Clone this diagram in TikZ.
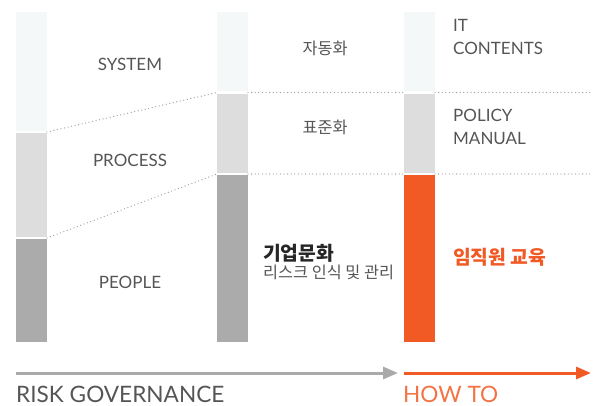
\documentclass[tikz,border=0pt]{standalone}
\usepackage{fontspec}
\setmainfont{Lato}
\newfontfamily\kr{Noto Sans CJK KR}
\usetikzlibrary{calc,arrows.meta}
\definecolor{barlight}{HTML}{F4F8F9}
\definecolor{barmid}{HTML}{DDDDDD}
\definecolor{bardark}{HTML}{ABABAB}
\definecolor{accent}{HTML}{F15A24}
\definecolor{txt}{HTML}{555555}
\definecolor{dots}{HTML}{A0A0A0}
\definecolor{arrowgray}{HTML}{AAAAAB}
\tikzset{
  seg/.style={draw=none, inner sep=0pt, outer sep=0pt, minimum width=31pt, anchor=north west},
  lbl/.style={text=txt, font=\fontsize{17}{21}\selectfont, inner sep=0pt},
  krl/.style={text=txt, font=\kr\fontsize{16.3}{20}\selectfont, inner sep=0pt},
  krb/.style={inner sep=0pt, anchor=west, font=\kr\bfseries\fontsize{19.3}{23}\selectfont},
  link/.style={draw=dots, line width=1.3pt, line cap=round, dash pattern=on 0pt off 3.6pt},
  flow/.style={line width=3pt, -{Triangle[length=15pt,width=12pt]}},
  foot/.style={font=\fontsize{22.6}{26}\selectfont, inner sep=0pt, anchor=west}
}
\begin{document}
\begin{tikzpicture}[x=1pt,y=-1pt]
\useasboundingbox (0,0) rectangle (597,406);

% dotted guide lines (drawn first, bars sit on top)
\coordinate (g1a) at (47,132);
\coordinate (g1b) at (217,92.5);
\coordinate (g1c) at (248,92.5);
\coordinate (g1d) at (404,92.5);
\coordinate (g1e) at (435,92.5);
\coordinate (g1f) at (591,92.5);
\coordinate (g2a) at (47,238);
\coordinate (g2b) at (217,174);
\coordinate (g2c) at (248,174);
\coordinate (g2d) at (404,174);
\coordinate (g2e) at (435,174);
\coordinate (g2f) at (591,174);
\draw[link] (g1a) -- (g1b);
\draw[link] (g1c) -- (g1d);
\draw[link] (g1e) -- (g1f);
\draw[link] (g2a) -- (g2b);
\draw[link] (g2c) -- (g2d);
\draw[link] (g2e) -- (g2f);

% column 1
\node[seg, fill=barlight, minimum height=119pt] (sys1) at (16,12) {};
\node[seg, fill=barmid, minimum height=104pt] (proc1) at (16,133) {};
\node[seg, fill=bardark, minimum height=103pt] (peo1) at (16,239) {};
% column 2
\node[seg, fill=barlight, minimum height=79pt] (sys2) at (217,12) {};
\node[seg, fill=barmid, minimum height=79pt] (proc2) at (217,94) {};
\node[seg, fill=bardark, minimum height=167pt] (peo2) at (217,175) {};
% column 3
\node[seg, fill=barlight, minimum height=79pt] (sys3) at (404,12) {};
\node[seg, fill=barmid, minimum height=79pt] (proc3) at (404,94) {};
\node[seg, fill=accent, minimum height=167pt] (peo3) at (404,175) {};

% labels, column 1
\node[lbl] (tsys) at (130,64) {SYSTEM};
\node[lbl] (tproc) at (130,160) {PROCESS};
\node[lbl] (tpeo) at (130,282) {PEOPLE};
% labels, column 2
\node[krl] (tauto) at (325,48) {자동화};
\node[krl] (tstd) at (325,127) {표준화};
\node[krb, text=black!85] (tcult) at (263,253) {기업문화};
\node[krl, anchor=west] (trisk) at (263,272) {리스크 인식 및 관리};
% labels, column 3
\node[lbl, anchor=west] (tit) at (453,25) {IT};
\node[lbl, anchor=west] (tcont) at (453,48) {CONTENTS};
\node[lbl, anchor=west] (tpol) at (453,115) {POLICY};
\node[lbl, anchor=west] (tman) at (453,138) {MANUAL};
\node[krb, text=accent] (tedu) at (453,257) {임직원 교육};

% bottom flow arrows
\coordinate (fa) at (16,373);
\coordinate (fb) at (398,373);
\coordinate (fc) at (404,373);
\coordinate (fd) at (591,373);
\draw[flow, draw=arrowgray, fill=arrowgray] (fa) -- (fb);
\draw[flow, draw=accent, fill=accent] (fc) -- (fd);
\node[foot, text=txt] (tgov) at (16,394.5) {RISK GOVERNANCE};
\node[foot, text=accent!85] (thow) at (403,394.5) {HOW TO};
\end{tikzpicture}
\end{document}
